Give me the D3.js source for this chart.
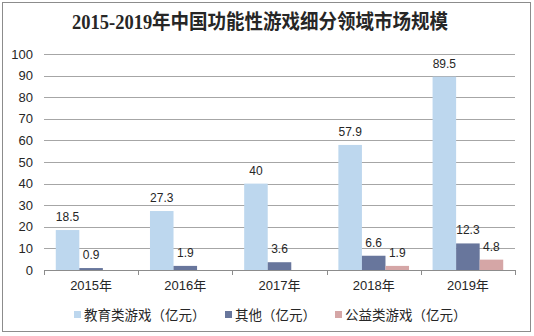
<!DOCTYPE html>
<html><head><meta charset="utf-8">
<script src="https://cdn.jsdelivr.net/npm/d3@7"></script>
<style>body{margin:0;background:#fff}svg{display:block}</style>
</head><body>
<svg id="c" width="534" height="336"></svg>
<script>
const title = "2015-2019年中国功能性游戏细分领域市场规模";
const categories = ["2015年","2016年","2017年","2018年","2019年"];
const seriesNames = ["教育类游戏（亿元）","其他（亿元）","公益类游戏（亿元）"];
const eduValues = [18.5,27.3,40,57.9,89.5];
const otherValues = [0.9,1.9,3.6,6.6,12.3];
const publicValues = [null,null,null,1.9,4.8];
const yTicks = [0,10,20,30,40,50,60,70,80,90,100];
const colors = ["#bdd7ee","#68769c","#d5a6a6"];

const svg = d3.select("#c");
svg.append("rect").attr("x",2.5).attr("y",2.5).attr("width",528).attr("height",329)
  .attr("fill","#fff").attr("stroke","#8c8c8c").attr("stroke-width",1);

const t = svg.append("text").attr("x",260).attr("y",29).attr("text-anchor","middle")
  .attr("font-family","'Liberation Serif','Noto Sans CJK SC',serif").attr("font-weight","bold")
  .attr("font-size",20).attr("fill","#262626").text(title);
// fit title to reference width
const tw = t.node().getComputedTextLength();
if (tw > 376) t.attr("textLength",376).attr("lengthAdjust","spacingAndGlyphs");

const x0 = d3.scaleBand().domain(categories).range([44,515]);
const x1 = d3.scaleBand().domain(d3.range(3)).range([x0.bandwidth()/8, x0.bandwidth()*7/8]);
const y = d3.scaleLinear().domain([0,100]).range([270,54]);

// grid
svg.append("g").selectAll("line").data(yTicks.filter(d=>d>0)).join("line")
  .attr("x1",44).attr("x2",515).attr("y1",d=>Math.round(y(d))+0.5).attr("y2",d=>Math.round(y(d))+0.5)
  .attr("stroke","#a6a6a6").attr("stroke-width",1);

// y labels
svg.append("g").selectAll("text").data(yTicks).join("text")
  .attr("x",33).attr("y",d=>y(d)+4.5).attr("text-anchor","end")
  .attr("font-family","'Liberation Sans',Arial,sans-serif").attr("font-size",13).attr("fill","#262626")
  .text(d=>d);

const series = [eduValues, otherValues, publicValues];
series.forEach((vals,si)=>{
  const g = svg.append("g");
  const data = categories.map((c,i)=>({c,v:vals[i]})).filter(d=>d.v!=null);
  g.selectAll("rect").data(data).join("rect")
    .attr("x",d=>x0(d.c)+x1(si)).attr("width",x1.bandwidth())
    .attr("y",d=>y(d.v)).attr("height",d=>y(0)-y(d.v)).attr("fill",colors[si]);
  g.selectAll("text").data(data).join("text")
    .attr("x",d=>x0(d.c)+x1(si)+x1.bandwidth()/2).attr("y",d=>y(d.v)-9)
    .attr("text-anchor","middle").attr("font-family","'Liberation Sans',Arial,sans-serif")
    .attr("font-size",12).attr("fill","#262626").text(d=>d.v);
});

// x axis
const xAxis = svg.append("g");
xAxis.append("line").attr("x1",44).attr("x2",515).attr("y1",270.5).attr("y2",270.5).attr("stroke","#8c8c8c");
xAxis.selectAll("line.t").data(categories.map(c=>x0(c)).concat([515])).join("line").attr("class","t")
  .attr("x1",d=>Math.round(d)+0.5).attr("x2",d=>Math.round(d)+0.5).attr("y1",270).attr("y2",275).attr("stroke","#8c8c8c");
xAxis.selectAll("text").data(categories).join("text")
  .attr("x",d=>x0(d)+x0.bandwidth()/2).attr("y",290).attr("text-anchor","middle")
  .attr("font-family","'Liberation Sans','Noto Sans CJK SC',sans-serif").attr("font-size",13).attr("fill","#262626")
  .text(d=>d);

// legend
const legX = [74,225,335];
const leg = svg.append("g");
seriesNames.forEach((n,i)=>{
  leg.append("rect").attr("x",legX[i]).attr("y",311).attr("width",7).attr("height",7).attr("fill",colors[i]);
  leg.append("text").attr("x",legX[i]+10).attr("y",319.5)
    .attr("font-family","'Noto Sans CJK SC',sans-serif").attr("font-size",13.5).attr("fill","#262626").text(n);
});
</script>
</body></html>
